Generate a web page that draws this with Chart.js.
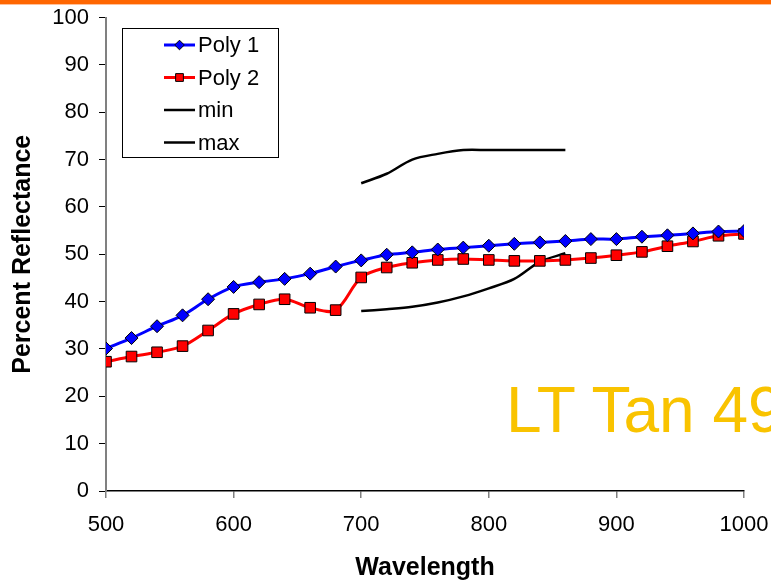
<!DOCTYPE html>
<html>
<head>
<meta charset="utf-8">
<script src="https://cdn.jsdelivr.net/npm/chart.js@4/dist/chart.umd.min.js"></script>
<style>
    html, body { margin: 0; padding: 0; background: #fff; overflow: hidden; }
    #wrap { position: relative; width: 771px; height: 583px; overflow: hidden; }
    #topbar { position: absolute; left: 0; top: 0; width: 771px; height: 4px; background: #ff6600; border-bottom: 1px solid #ffc09a; }
    #tag { position: absolute; left: 506px; top: 378px; font: 64px "Liberation Sans", Arial, sans-serif; line-height: 64px; color: #f9c300; white-space: nowrap; }
</style>
</head>
<body>
<div id="wrap">
    <canvas id="chart" width="771" height="583"></canvas>
    <div id="topbar"></div>
    <div id="tag">LT Tan 49</div>
</div>
<script>
const wavelengths = [500, 520, 540, 560, 580, 600, 620, 640, 660, 680, 700, 720, 740,
    760, 780, 800, 820, 840, 860, 880, 900, 920, 940, 960, 980, 1000];
const poly1 = [30.1, 32.3, 34.8, 37.1, 40.5, 43.1, 44.1, 44.8, 45.9, 47.4, 48.7, 49.9, 50.4,
    51.0, 51.4, 51.8, 52.2, 52.5, 52.8, 53.2, 53.2, 53.7, 54.0, 54.4, 54.8, 54.9];
const poly2 = [27.3, 28.4, 29.3, 30.6, 33.9, 37.4, 39.4, 40.5, 38.7, 38.2, 45.1, 47.2, 48.2,
    48.8, 49.0, 48.8, 48.6, 48.6, 48.8, 49.2, 49.8, 50.5, 51.7, 52.7, 53.9, 54.3];
const rangeWavelengths = [700, 720, 740, 760, 780, 800, 820, 840, 860];
const minValues = [38.0, 38.4, 38.9, 39.8, 41.1, 42.8, 44.8, 48.4, 50.2];
const maxValues = [65.0, 67.0, 70.0, 71.2, 72.0, 72.0, 72.0, 72.0, 72.0];
const xTicks = [500, 600, 700, 800, 900, 1000];

const pts = (xs, ys) => xs.map((x, i) => ({ x: x, y: ys[i] }));
const FONT = '"Liberation Sans", Arial, sans-serif';

// legend in a bordered box inside the plot, like the excel one
const boxLegend = {
    id: 'boxLegend',
    afterDraw(chart) {
        const ctx = chart.ctx;
        const left = 122, top = 28, w = 156, h = 129, rowH = 32.5;
        ctx.save();
        ctx.fillStyle = '#fff';
        ctx.fillRect(left, top, w, h);
        ctx.strokeStyle = '#000';
        ctx.lineWidth = 1;
        ctx.strokeRect(left + 0.5, top + 0.5, w, h);
        chart.data.datasets.forEach((ds, i) => {
            const y = top + 17 + i * rowH;
            ctx.strokeStyle = ds.borderColor;
            ctx.lineWidth = ds.borderWidth;
            ctx.beginPath();
            ctx.moveTo(164, y);
            ctx.lineTo(195, y);
            ctx.stroke();
            if (ds.pointRadius > 0) {
                ctx.fillStyle = ds.pointBackgroundColor;
                ctx.strokeStyle = ds.pointBorderColor;
                ctx.lineWidth = 1;
                Chart.helpers.drawPoint(ctx, {
                    pointStyle: ds.pointStyle,
                    radius: ds.pointStyle === 'rect' ? 5.5 : 4.8,
                    borderWidth: 1
                }, 179.5, y);
            }
            ctx.fillStyle = '#000';
            ctx.font = '22px ' + FONT;
            ctx.textBaseline = 'middle';
            ctx.textAlign = 'left';
            ctx.fillText(ds.label, 198, y + 1);
        });
        ctx.restore();
    }
};

new Chart(document.getElementById('chart'), {
    type: 'line',
    data: {
        datasets: [
            {
                label: 'Poly 1',
                data: pts(wavelengths, poly1),
                borderColor: '#0000ff',
                borderWidth: 3,
                pointStyle: 'rectRot',
                pointRadius: 6.5,
                pointBackgroundColor: '#0000ff',
                pointBorderColor: '#000',
                pointBorderWidth: 1,
                tension: 0.33
            },
            {
                label: 'Poly 2',
                data: pts(wavelengths, poly2),
                borderColor: '#ff0000',
                borderWidth: 3,
                pointStyle: 'rect',
                pointRadius: 7.5,
                pointBackgroundColor: '#ff0000',
                pointBorderColor: '#000',
                pointBorderWidth: 1,
                tension: 0.33
            },
            {
                label: 'min',
                data: pts(rangeWavelengths, minValues),
                borderColor: '#000',
                borderWidth: 2.5,
                pointRadius: 0,
                tension: 0.33
            },
            {
                label: 'max',
                data: pts(rangeWavelengths, maxValues),
                borderColor: '#000',
                borderWidth: 2.5,
                pointRadius: 0,
                tension: 0.33
            }
        ]
    },
    options: {
        responsive: false,
        animation: false,
        layout: { padding: { top: 17.5, right: 27, left: 0, bottom: 0 } },
        plugins: {
            legend: { display: false },
            tooltip: { enabled: false }
        },
        scales: {
            x: {
                type: 'linear',
                min: 500,
                max: 1000,
                afterFit: (s) => {
                    s.height = 92;
                    s.paddingLeft = 0;
                    s.paddingRight = 0;
                },
                afterBuildTicks: (s) => { s.ticks = xTicks.map(v => ({ value: v })); },
                border: { color: '#000', width: 1.5 },
                grid: { drawOnChartArea: false, color: '#808080', tickLength: 7, lineWidth: 1.5 },
                ticks: {
                    color: '#000',
                    padding: 14,
                    font: { family: FONT, size: 22 },
                    callback: (v) => String(v)
                },
                title: {
                    display: true,
                    text: 'Wavelength',
                    color: '#000',
                    font: { family: FONT, size: 25, weight: 'bold' },
                    padding: { top: 0, bottom: 0 }
                }
            },
            y: {
                min: 0,
                max: 100,
                afterFit: (s) => {
                    s.width = 106;
                    s.paddingTop = 0;
                    s.paddingBottom = 0;
                },
                border: { color: '#808080', width: 2 },
                grid: { drawOnChartArea: false, color: '#000', tickLength: 7, lineWidth: 1 },
                ticks: { stepSize: 10, color: '#000', padding: 10, font: { family: FONT, size: 22 } },
                title: {
                    display: true,
                    text: 'Percent Reflectance',
                    color: '#000',
                    font: { family: FONT, size: 25, weight: 'bold' },
                    padding: { top: 8, bottom: 0 }
                }
            }
        }
    },
    plugins: [boxLegend]
});
</script>
</body>
</html>
